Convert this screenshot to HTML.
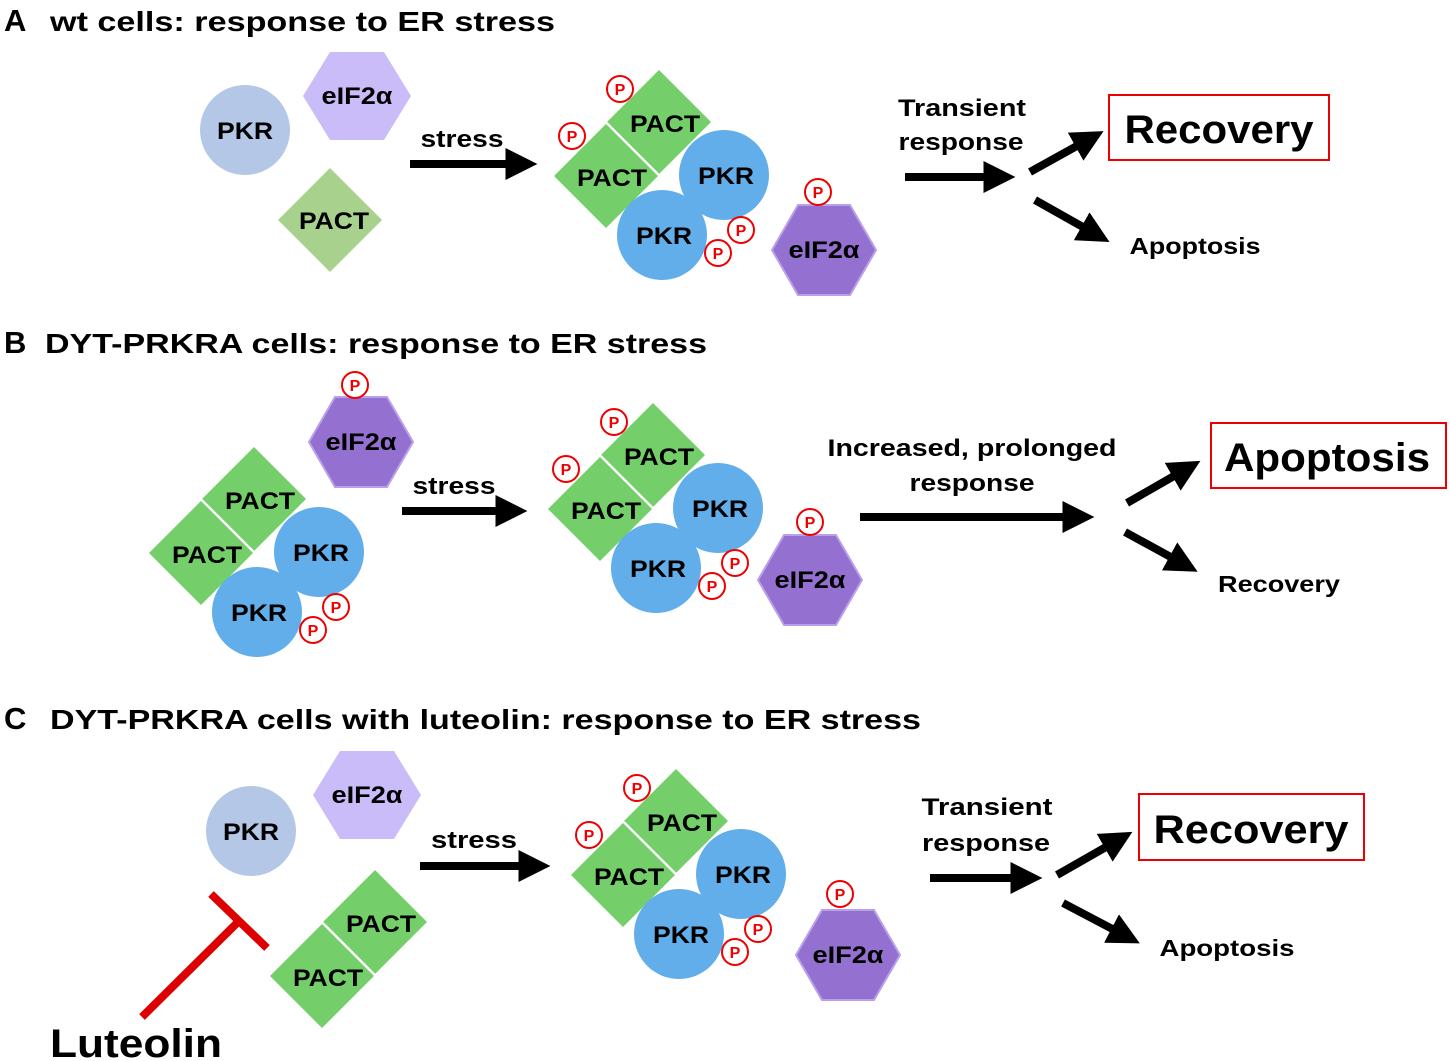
<!DOCTYPE html>
<html><head><meta charset="utf-8"><style>
html,body{margin:0;padding:0;background:#fff}
svg{display:block}
text{font-family:"Liberation Sans",Arial,sans-serif;font-weight:bold;fill:#000}
</style></head><body>
<svg width="1450" height="1061" viewBox="0 0 1450 1061" xmlns="http://www.w3.org/2000/svg">
<defs>
<marker id="ah" markerWidth="4" markerHeight="4" refX="1.2" refY="2" orient="auto" markerUnits="strokeWidth">
<path d="M0,0 L4,2 L0,4 Z" fill="#000"/></marker>
<g id="P"><circle r="13" fill="#fff" stroke="#e00" stroke-width="2"/><text y="6" text-anchor="middle" font-size="16" style="fill:#e00">P</text></g>
<g id="hexD"><polygon points="-52,0 -26,-45 26,-45 52,0 26,45 -26,45" fill="#9470d0" stroke="#b9a0ea" stroke-width="2"/><text y="8" text-anchor="middle" font-size="24" textLength="71" lengthAdjust="spacingAndGlyphs">eIF2α</text></g>
<g id="hexL"><polygon points="-54,0 -27,-44 27,-44 54,0 27,44 -27,44" fill="#c9bcf9"/><text y="8" text-anchor="middle" font-size="24" textLength="71" lengthAdjust="spacingAndGlyphs">eIF2α</text></g>
<g id="pkrL"><circle r="45" fill="#b4c7e7"/><text y="9" text-anchor="middle" font-size="24" textLength="56" lengthAdjust="spacingAndGlyphs">PKR</text></g>
<g id="pacts">
<polygon points="0,-52 52,0 0,52 -52,0" fill="#74cf6a"/>
<polygon points="-53,2 -1,54 -53,106 -105,54" fill="#74cf6a"/>
<line x1="-52" y1="1" x2="0" y2="53" stroke="#fff" stroke-width="2"/>
<text x="6" y="10" text-anchor="middle" font-size="24" textLength="70" lengthAdjust="spacingAndGlyphs">PACT</text>
<text x="-47" y="64" text-anchor="middle" font-size="24" textLength="70" lengthAdjust="spacingAndGlyphs">PACT</text>
</g>
<g id="cx0">
<use href="#pacts"/>
<circle cx="65" cy="53" r="45" fill="#62aeea"/>
<circle cx="3" cy="113" r="45" fill="#62aeea"/>
<text x="67" y="62" text-anchor="middle" font-size="24" textLength="56" lengthAdjust="spacingAndGlyphs">PKR</text>
<text x="5" y="122" text-anchor="middle" font-size="24" textLength="56" lengthAdjust="spacingAndGlyphs">PKR</text>
<use href="#P" x="82" y="108"/><use href="#P" x="59" y="131"/>
</g>
<g id="cx">
<use href="#cx0"/>
<use href="#P" x="-39" y="-33"/><use href="#P" x="-87" y="14"/>
</g>
</defs>

<!-- Panel A -->
<text x="4" y="31" font-size="31">A</text>
<text x="50" y="31" font-size="28" textLength="505" lengthAdjust="spacingAndGlyphs">wt cells: response to ER stress</text>
<use href="#pkrL" x="245" y="130"/>
<use href="#hexL" x="357" y="96"/>
<polygon points="330,168 382,220 330,272 278,220" fill="#a9d18e"/>
<text x="334" y="229" text-anchor="middle" font-size="24" textLength="70" lengthAdjust="spacingAndGlyphs">PACT</text>
<text x="462" y="147" text-anchor="middle" font-size="24" textLength="83" lengthAdjust="spacingAndGlyphs">stress</text>
<line x1="410" y1="164" x2="515" y2="164" stroke="#000" stroke-width="8" marker-end="url(#ah)"/>
<use href="#cx" x="659" y="122"/>
<use href="#hexD" x="824" y="250"/><use href="#P" x="818" y="192"/>
<text x="962" y="116" text-anchor="middle" font-size="24" textLength="128" lengthAdjust="spacingAndGlyphs">Transient</text>
<text x="961" y="150" text-anchor="middle" font-size="24" textLength="125" lengthAdjust="spacingAndGlyphs">response</text>
<line x1="905" y1="177" x2="993" y2="177" stroke="#000" stroke-width="8" marker-end="url(#ah)"/>
<line x1="1030" y1="172" x2="1084" y2="142" stroke="#000" stroke-width="8" marker-end="url(#ah)"/>
<line x1="1035" y1="200" x2="1090" y2="231" stroke="#000" stroke-width="8" marker-end="url(#ah)"/>
<rect x="1109" y="95" width="220" height="65" fill="none" stroke="#e00" stroke-width="2"/>
<text x="1219" y="143" text-anchor="middle" font-size="40" textLength="189" lengthAdjust="spacingAndGlyphs">Recovery</text>
<text x="1195" y="254" text-anchor="middle" font-size="23" textLength="131" lengthAdjust="spacingAndGlyphs">Apoptosis</text>

<!-- Panel B -->
<text x="4" y="353" font-size="31">B</text>
<text x="45" y="353" font-size="28" textLength="662" lengthAdjust="spacingAndGlyphs">DYT-PRKRA cells: response to ER stress</text>
<use href="#hexD" x="361" y="442"/><use href="#P" x="355" y="385"/>
<use href="#cx0" x="254" y="499"/>
<text x="454" y="494" text-anchor="middle" font-size="24" textLength="83" lengthAdjust="spacingAndGlyphs">stress</text>
<line x1="402" y1="511" x2="505" y2="511" stroke="#000" stroke-width="8" marker-end="url(#ah)"/>
<use href="#cx" x="653" y="455"/>
<use href="#hexD" x="810" y="580"/><use href="#P" x="810" y="522"/>
<text x="972" y="456" text-anchor="middle" font-size="24" textLength="289" lengthAdjust="spacingAndGlyphs">Increased, prolonged</text>
<text x="972" y="491" text-anchor="middle" font-size="24" textLength="125" lengthAdjust="spacingAndGlyphs">response</text>
<line x1="860" y1="517" x2="1072" y2="517" stroke="#000" stroke-width="8" marker-end="url(#ah)"/>
<line x1="1127" y1="503" x2="1181" y2="472" stroke="#000" stroke-width="8" marker-end="url(#ah)"/>
<line x1="1125" y1="532" x2="1178" y2="561" stroke="#000" stroke-width="8" marker-end="url(#ah)"/>
<rect x="1211" y="423" width="235" height="65" fill="none" stroke="#e00" stroke-width="2"/>
<text x="1327" y="471" text-anchor="middle" font-size="40" textLength="206" lengthAdjust="spacingAndGlyphs">Apoptosis</text>
<text x="1279" y="592" text-anchor="middle" font-size="23" textLength="122" lengthAdjust="spacingAndGlyphs">Recovery</text>

<!-- Panel C -->
<text x="4" y="729" font-size="31">C</text>
<text x="50" y="729" font-size="28" textLength="871" lengthAdjust="spacingAndGlyphs">DYT-PRKRA cells with luteolin: response to ER stress</text>
<use href="#pkrL" x="251" y="831"/>
<use href="#hexL" x="367" y="795"/>
<use href="#pacts" x="375" y="922"/>
<line x1="142" y1="1017" x2="240" y2="920" stroke="#d00" stroke-width="8"/>
<line x1="211" y1="894" x2="267" y2="948" stroke="#d00" stroke-width="8"/>
<text x="50" y="1057" font-size="40" textLength="172" lengthAdjust="spacingAndGlyphs">Luteolin</text>
<text x="474" y="848" text-anchor="middle" font-size="24" textLength="86" lengthAdjust="spacingAndGlyphs">stress</text>
<line x1="420" y1="866" x2="528" y2="866" stroke="#000" stroke-width="8" marker-end="url(#ah)"/>
<use href="#cx" x="676" y="821"/>
<use href="#hexD" x="848" y="955"/><use href="#P" x="840" y="894"/>
<text x="987" y="815" text-anchor="middle" font-size="24" textLength="131" lengthAdjust="spacingAndGlyphs">Transient</text>
<text x="986" y="851" text-anchor="middle" font-size="24" textLength="128" lengthAdjust="spacingAndGlyphs">response</text>
<line x1="930" y1="878" x2="1020" y2="878" stroke="#000" stroke-width="8" marker-end="url(#ah)"/>
<line x1="1057" y1="875" x2="1113" y2="843" stroke="#000" stroke-width="8" marker-end="url(#ah)"/>
<line x1="1063" y1="903" x2="1120" y2="933" stroke="#000" stroke-width="8" marker-end="url(#ah)"/>
<rect x="1139" y="794" width="225" height="66" fill="none" stroke="#e00" stroke-width="2"/>
<text x="1251" y="843" text-anchor="middle" font-size="40" textLength="195" lengthAdjust="spacingAndGlyphs">Recovery</text>
<text x="1227" y="956" text-anchor="middle" font-size="23" textLength="135" lengthAdjust="spacingAndGlyphs">Apoptosis</text>
</svg>
</body></html>
